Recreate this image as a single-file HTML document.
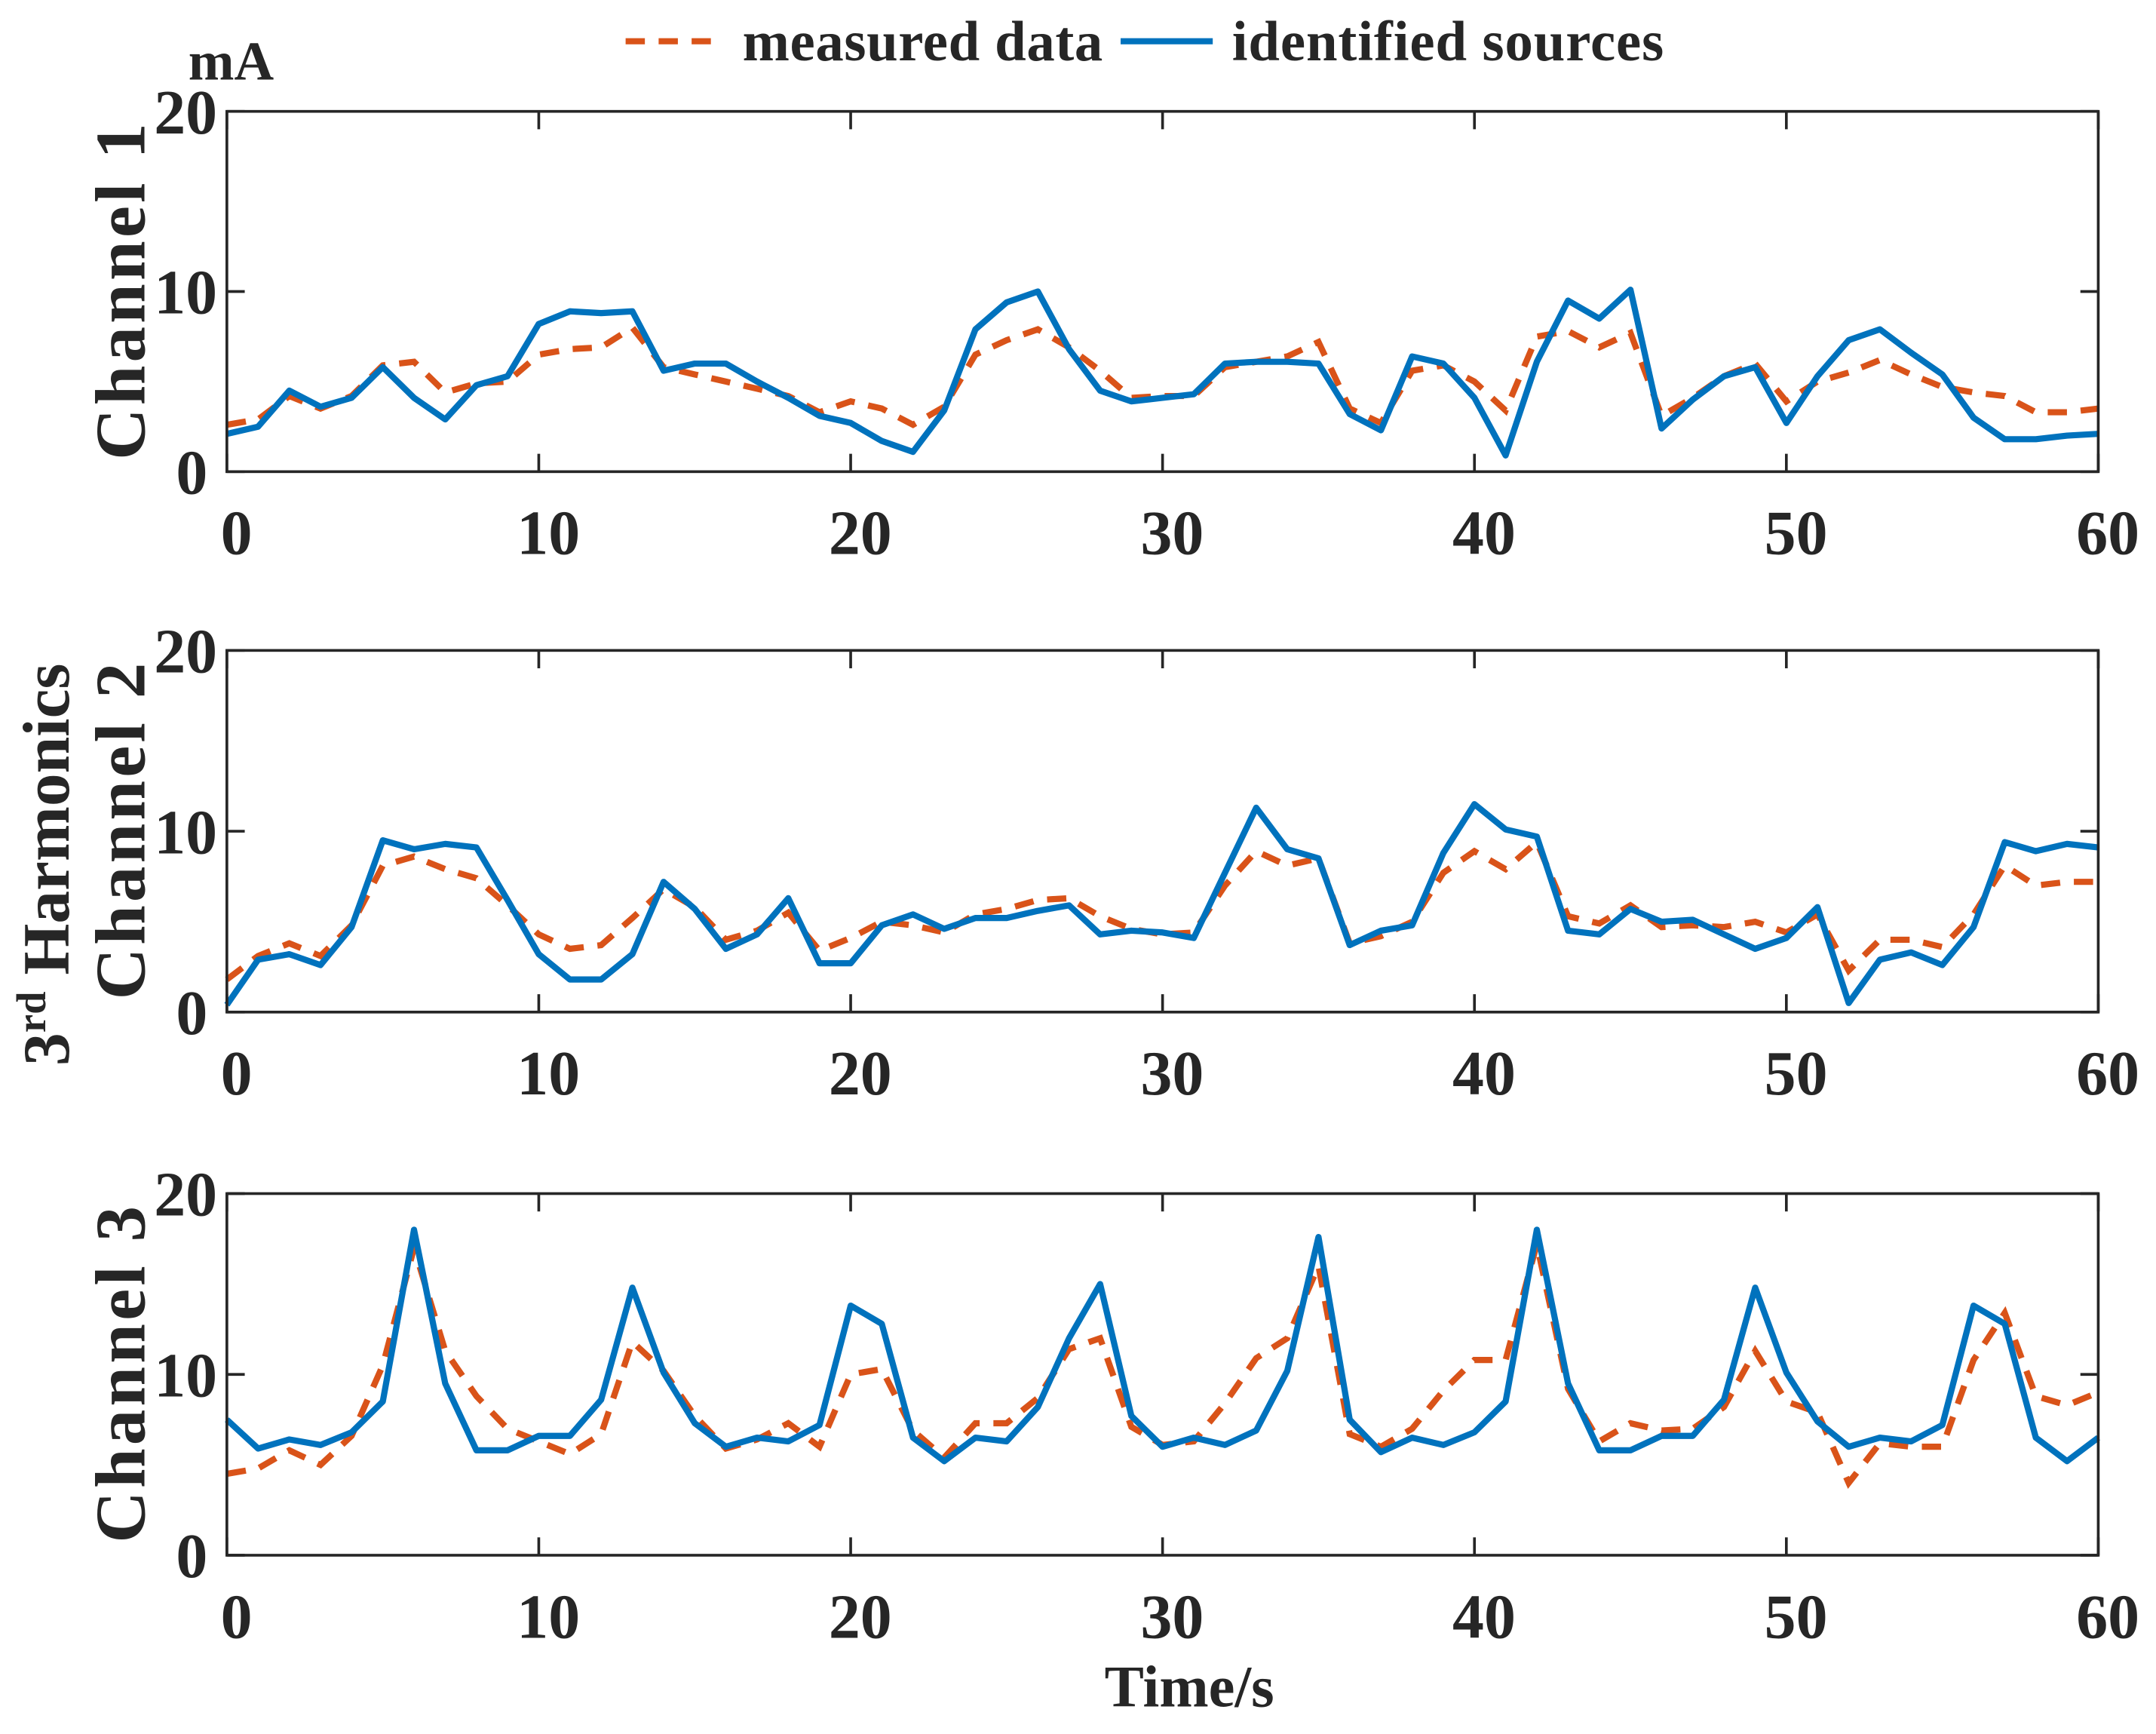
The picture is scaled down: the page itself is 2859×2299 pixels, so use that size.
<!DOCTYPE html>
<html><head><meta charset="utf-8"><style>
html,body{margin:0;padding:0;background:#fff;}
svg{display:block;}
text{font-family:"Liberation Serif",serif;font-weight:bold;fill:#262626;}
</style></head><body>
<svg id="chart" width="2859" height="2299" viewBox="0 0 1568 1261" preserveAspectRatio="none" xmlns="http://www.w3.org/2000/svg">
<g>
<line x1="455" y1="30" x2="527" y2="30" stroke="#D95319" stroke-width="4.5" stroke-dasharray="14,10"/>
<text x="540" y="44" font-size="41" textLength="262">measured data</text>
<line x1="815" y1="30" x2="882" y2="30" stroke="#0072BD" stroke-width="4.5"/>
<text x="896" y="44" font-size="41" textLength="314">identified sources</text>
</g>
<text x="137" y="58" font-size="40">mA</text>
<text x="865" y="1241" font-size="43" text-anchor="middle">Time/s</text>
<text transform="translate(50,775) rotate(-90)" font-size="48">3<tspan font-size="30" dy="-17">rd</tspan><tspan dy="17"> Harmonics</tspan></text>
<g id="plots"></g>
</svg>
<script>
const xs = Array.from({length:61},(_,i)=>i);
const xTicks = [0,10,20,30,40,50,60];
const yTicks = [0,10,20];
const ch1Measured = [2.6,2.9,4.2,3.5,4.2,5.9,6.1,4.4,4.9,5,6.5,6.8,6.9,8,5.8,5.4,5,4.6,4.2,3.3,3.9,3.5,2.6,3.6,6.5,7.3,7.9,6.9,5.6,4.1,4.2,4.2,5.8,6.1,6.4,7.2,3.5,2.7,5.6,5.9,5,3.4,7.5,7.8,6.9,7.7,3.1,4.1,5.3,6,3.9,5,5.5,6.2,5.4,4.7,4.4,4.2,3.3,3.3,3.5];
const ch1Identified = [2.1,2.5,4.5,3.6,4.1,5.8,4.1,2.9,4.8,5.3,8.2,8.9,8.8,8.9,5.6,6,6,5,4.1,3.1,2.7,1.7,1.1,3.4,7.9,9.4,10,6.8,4.5,3.9,4.1,4.3,6,6.1,6.1,6,3.2,2.3,6.4,6,4.1,0.9,6.1,9.5,8.5,10.1,2.4,4,5.3,5.8,2.7,5.3,7.3,7.9,6.6,5.4,3,1.8,1.8,2,2.1];
const ch2Measured = [1.8,3.1,3.8,3.1,4.8,8.1,8.6,7.9,7.4,5.9,4.3,3.5,3.7,5.2,6.8,5.8,4,4.5,5.5,3.4,4.1,5,4.8,4.4,5.4,5.7,6.2,6.3,5.3,4.6,4.3,4.4,7,8.9,8.1,8.5,3.8,4.2,5,7.7,8.9,7.9,9.4,5.3,4.9,5.9,4.7,4.8,4.7,5,4.4,5.4,2.3,4,4,3.6,5.4,8.1,7,7.2,7.2];
const ch2Identified = [0.4,2.9,3.2,2.6,4.7,9.5,9,9.3,9.1,6.2,3.2,1.8,1.8,3.2,7.2,5.7,3.5,4.3,6.3,2.7,2.7,4.8,5.4,4.6,5.2,5.2,5.6,5.9,4.3,4.5,4.4,4.1,7.7,11.3,9,8.5,3.7,4.5,4.8,8.8,11.5,10.1,9.7,4.5,4.3,5.7,5,5.1,4.3,3.5,4.1,5.8,0.5,2.9,3.3,2.6,4.7,9.4,8.9,9.3,9.1];
const ch3Measured = [4.5,4.8,5.8,5,6.6,10.5,17,11.3,8.8,7,6.3,5.6,6.7,11.8,10.2,7.7,5.9,6.4,7.3,6,10,10.3,6.9,5.4,7.3,7.3,8.7,11.4,12,7.1,6.1,6.3,8.4,10.9,12,16,6.7,6,7,9.1,10.8,10.8,17.2,9.2,6.3,7.3,6.9,7,8.2,11.3,8.5,7.9,4,6.2,6,6,10.8,13.4,8.8,8.3,9];
const ch3Identified = [7.5,5.9,6.4,6.1,6.8,8.5,18,9.5,5.8,5.8,6.6,6.6,8.6,14.8,10.1,7.3,6,6.5,6.3,7.2,13.8,12.8,6.5,5.2,6.5,6.3,8.2,12,15,7.7,6,6.5,6.1,6.9,10.2,17.6,7.5,5.7,6.5,6.1,6.8,8.5,18,9.5,5.8,5.8,6.6,6.6,8.6,14.8,10.1,7.4,6,6.5,6.3,7.2,13.8,12.8,6.5,5.2,6.5];
const channelNames = ["Channel 1","Channel 2","Channel 3"];

const NS="http://www.w3.org/2000/svg";
const root=document.getElementById('plots');
const L=165,R=1526;
const panels=[[81,343],[473,736],[868,1131]];
const measured=[ch1Measured,ch2Measured,ch3Measured];
const identified=[ch1Identified,ch2Identified,ch3Identified];
function mk(tag,attrs,parent){const e=document.createElementNS(NS,tag);for(const k in attrs)e.setAttribute(k,attrs[k]);parent.appendChild(e);return e;}
panels.forEach((p,pi)=>{
  const T=p[0],B=p[1];
  const sx=v=>L+(v-0)/(60-0)*(R-L);
  const sy=v=>B-(v/20)*(B-T);
  const g=mk('g',{},root);
  
  
  const pts=arr=>arr.map((v,i)=>sx(xs[i]).toFixed(1)+','+sy(v).toFixed(1)).join(' ');
  const ml=mk('polyline',{points:pts(measured[pi]),fill:'none',stroke:'#D95319','stroke-width':4.5,'stroke-dasharray':'14,10'},g);
  
  
  const il=mk('polyline',{points:pts(identified[pi]),fill:'none',stroke:'#0072BD','stroke-width':4.5,'stroke-linejoin':'round'},g);
  
  
  const box=mk('rect',{x:L,y:T,width:R-L,height:B-T,fill:'none',stroke:'#262626','stroke-width':2},g);
  
  
  xTicks.forEach(t=>{
    const x=sx(t);
    mk('line',{x1:x,y1:B,x2:x,y2:B-13,stroke:'#262626','stroke-width':2},g);
    mk('line',{x1:x,y1:T,x2:x,y2:T+13,stroke:'#262626','stroke-width':2},g);
    const tx=mk('text',{x:x+7,y:B+60,'font-size':46,'text-anchor':'middle'},g);
    tx.textContent=t;
    
    
  });
  yTicks.forEach(t=>{
    const y=sy(t);
    mk('line',{x1:L,y1:y,x2:L+13,y2:y,stroke:'#262626','stroke-width':2},g);
    mk('line',{x1:R,y1:y,x2:R-13,y2:y,stroke:'#262626','stroke-width':2},g);
    const tx=mk('text',{x:t===0?151:158,y:y+16,'font-size':46,'text-anchor':'end'},g);
    tx.textContent=t;
    
    
  });
  const yl=mk('text',{transform:'translate(105,'+((T+B)/2)+') rotate(-90)','font-size':52,'text-anchor':'middle',textLength:245},g);
  yl.textContent=channelNames[pi];
  
  
});
</script>
</body></html>
